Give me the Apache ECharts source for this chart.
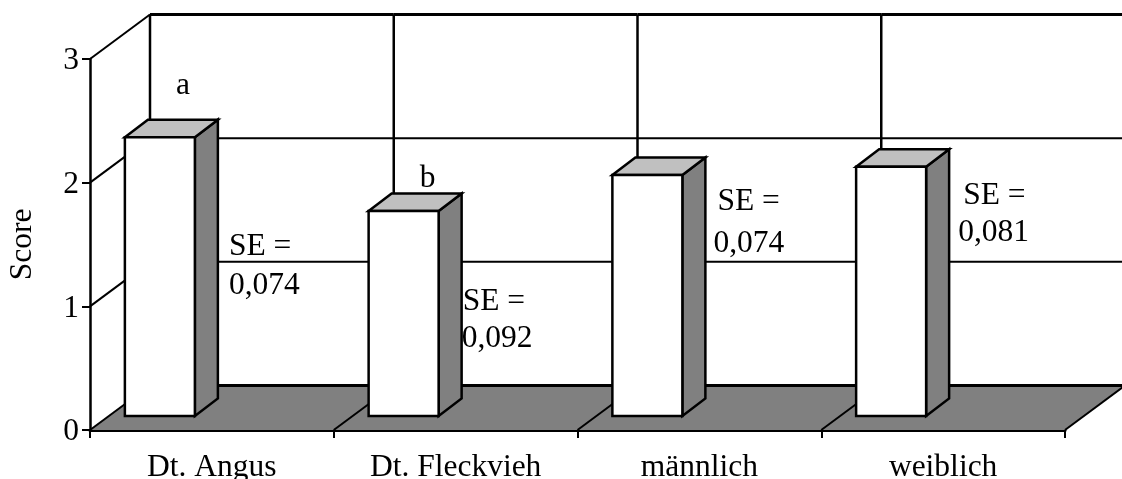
<!DOCTYPE html>
<html><head><meta charset="utf-8">
<style>html,body{margin:0;padding:0;background:#fff}#c{width:1122px;height:479px}</style>
<script src="https://cdn.jsdelivr.net/npm/echarts@6/dist/echarts.min.js"></script>
</head><body><div id="c"></div>
<script>
const categories = ['Dt. Angus', 'Dt. Fleckvieh', 'männlich', 'weiblich'];
const scores = [2.255, 1.657, 1.948, 2.015];
const seTitles = ['SE =', 'SE =', 'SE =', 'SE ='];
const seValues = ['0,074', '0,092', '0,074', '0,081'];
const sigLetters = ['a', 'b', '', ''];
const yTicks = [0, 1, 2, 3];

const FONT = '"Liberation Serif","Times New Roman",serif';
const FS = 31.5;
const DX = 60, DY = -44.5;          // depth of the chart box
const BAR_BASE_DY = -14;            // bar front sits slightly inside the floor
const BAR_LEFT = -87, BAR_W = 70;   // relative to band centre
const BAR_DX = 23, BAR_DY = -17.5;  // depth of a bar
// label placement relative to the band centre and axis zero
const seOffsets = [
  {x1: 17, y1: -183, x2: 17, y2: -144},
  {x1: 7, y1: -128, x2: 6, y2: -91},
  {x1: 18, y1: -228, x2: 14, y2: -186},
  {x1: 20, y1: -234, x2: 15, y2: -197}
];
const sigOffsets = [{x: -36, y: -344}, {x: -36, y: -251}];

function black(w){ return {stroke:'#000', lineWidth:w, fill:null}; }
function line(x1,y1,x2,y2,w){
  return {type:'line', shape:{x1,y1,x2,y2}, style:black(w)};
}

function renderFrame(params, api){
  const i = api.value(0);
  const band = api.size([1,0])[0];
  const cx = api.coord([i,0])[0];
  const xl = cx - band/2, xr = cx + band/2;
  const y0 = api.coord([i,0])[1];
  const kids = [];
  yTicks.forEach(t=>{
    const y = api.coord([i,t])[1] + DY;
    if (t>0) kids.push(line(xl+DX, y, xr+DX, y, t===3?3:2));
    if (i===0 && t>0) kids.push(line(xl, y-DY, xl+DX, y, 2));
  });
  kids.push(line(xl+DX, api.coord([i,3])[1]+DY, xl+DX, y0+DY, 2.5));
  kids.push({type:'polygon', shape:{points:[[xl,y0],[xr,y0],[xr+DX,y0+DY],[xl+DX,y0+DY]]},
    style:{fill:'#808080', stroke:null}});
  kids.push(line(xl+DX, y0+DY, xr+DX, y0+DY, 3));
  kids.push(line(xl, y0, xl+DX, y0+DY, 2));
  if (i===categories.length-1) kids.push(line(xr, y0, xr+DX, y0+DY, 2));
  return {type:'group', children:kids};
}

function renderBar(params, api){
  const i = api.value(0), v = api.value(1);
  const cx = api.coord([i,0])[0];
  const y0 = api.coord([i,0])[1] + BAR_BASE_DY;
  const yT = y0 - (api.coord([i,0])[1] - api.coord([i,v])[1]);
  const x = cx + BAR_LEFT, xR = x + BAR_W;
  const st = {stroke:'#000', lineWidth:2.5, lineJoin:'miter'};
  return {type:'group', children:[
    {type:'polygon', shape:{points:[[xR,yT],[xR+BAR_DX,yT+BAR_DY],[xR+BAR_DX,y0+BAR_DY],[xR,y0]]}, style:Object.assign({fill:'#808080'},st)},
    {type:'polygon', shape:{points:[[x,yT],[x+BAR_DX,yT+BAR_DY],[xR+BAR_DX,yT+BAR_DY],[xR,yT]]}, style:Object.assign({fill:'#c0c0c0'},st)},
    {type:'rect', shape:{x:x,y:yT,width:BAR_W,height:y0-yT}, style:Object.assign({fill:'#fff'},st)}
  ]};
}

function txt(text,x,y){
  return {type:'text', style:{text, x, y, fill:'#000', font:FS+'px '+FONT, textAlign:'left', textVerticalAlign:'middle'}};
}
function renderText(params, api){
  const i = api.value(0);
  const p = api.coord([i,0]);
  const o = seOffsets[i];
  const kids = [txt(seTitles[i], p[0]+o.x1, p[1]+o.y1), txt(seValues[i], p[0]+o.x2, p[1]+o.y2)];
  if (sigLetters[i]) kids.push(txt(sigLetters[i], p[0]+sigOffsets[i].x, p[1]+sigOffsets[i].y));
  return {type:'group', children:kids};
}

const rows = categories.map((c,i)=>[i, scores[i]]);
const chart = echarts.init(document.getElementById('c'), null, {renderer:'canvas'});
chart.setOption({
  animation:false,
  backgroundColor:'#fff',
  grid:{left:90, top:59, width:975, height:371, containLabel:false, outerBoundsMode:'none'},
  xAxis:{type:'category', data:categories, boundaryGap:true,
    axisLine:{lineStyle:{color:'#000',width:3}},
    axisTick:{show:true,alignWithLabel:false,length:8,lineStyle:{color:'#000',width:2}},
    axisLabel:{color:'#000',fontFamily:FONT,fontSize:FS,margin:22},
    splitLine:{show:false}},
  yAxis:{type:'value', min:0, max:3, interval:1,
    name:'Score', nameLocation:'middle', nameGap:51, nameRotate:90,
    nameTextStyle:{color:'#000',fontFamily:FONT,fontSize:FS},
    axisLine:{show:true,lineStyle:{color:'#000',width:2.5}},
    axisTick:{show:true,length:8,lineStyle:{color:'#000',width:2}},
    axisLabel:{color:'#000',fontFamily:FONT,fontSize:FS,margin:11,verticalAlign:'top',lineHeight:4},
    splitLine:{show:false}},
  series:[
    {type:'custom', name:'frame', z:1, clip:false, silent:true, data:rows, renderItem:renderFrame},
    {type:'custom', name:'Score', z:3, clip:false, silent:true, data:rows, renderItem:renderBar},
    {type:'custom', name:'labels', z:4, clip:false, silent:true, data:rows, renderItem:renderText}
  ]
});
</script></body></html>
